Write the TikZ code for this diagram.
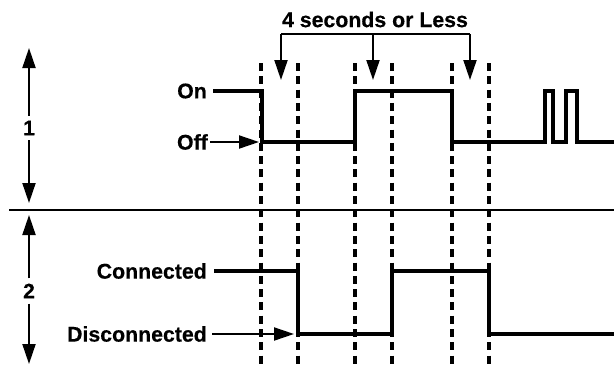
\documentclass[tikz,border=0pt]{standalone}
\usepackage{fontspec}
\setmainfont{Liberation Sans}[BoldFeatures={FakeBold=0.4}]
\usetikzlibrary{arrows.meta}
\begin{document}
\begin{tikzpicture}[x=1pt,y=-1pt,
  lbl/.style={font=\fontsize{21.3}{25}\selectfont\bfseries, inner sep=0pt},
  num/.style={font=\fontsize{21}{24}\selectfont\bfseries, inner sep=5pt},
  sig/.style={line width=4.8pt, line join=miter},
  guide/.style={line width=3.5pt, dash pattern=on 8pt off 5.3pt},
  thin/.style={line width=2pt},
  arr/.style={thin, -{Triangle[length=20pt,width=13pt]}}]
\useasboundingbox (0,0) rectangle (614,365);
% guide lines
\foreach \x/\n in {261/g1,298/g2,355/g3,392/g4,452/g5,489/g6}{
  \coordinate (\n t) at (\x,63);
  \coordinate (\n b) at (\x,365);
  \draw[guide] (\n t) -- (\n b);
}
% separator
\coordinate (sepL) at (9,209.5);
\coordinate (sepR) at (614,209.5);
\draw[thin] (sepL) -- (sepR);
% signal 1
\draw[sig] (213,91) -- (262,91) -- (262,142) -- (355,142) -- (355,91) -- (452,91) -- (452,142)
  -- (545,142) -- (545,91) -- (553,91) -- (553,142) -- (566,142) -- (566,91) -- (577,91) -- (577,142) -- (614,142);
% signal 2
\draw[sig] (214,271) -- (298,271) -- (298,334) -- (392,334) -- (392,271) -- (489,271) -- (489,334) -- (614,334);
% labels
\node[lbl, anchor=east] (on) at (207,91) {On};
\node[lbl, anchor=east] (off) at (208,142) {Off};
\node[lbl, anchor=east] (con) at (207,271) {Connected};
\node[lbl, anchor=east] (dis) at (207,334) {Disconnected};
\coordinate (offtip) at (259,142);
\coordinate (distip) at (294,334);
\draw[arr] ([xshift=2pt]off.east) -- (offtip);
\draw[arr] ([xshift=5pt]dis.east) -- (distip);
% title bracket
\node[lbl] (title) at (375,19.5) {4 seconds or Less};
\coordinate (bl) at (281,34);
\coordinate (bm) at (373,34);
\coordinate (br) at (470,34);
\coordinate (tl) at (281,80);
\coordinate (tm) at (373,80);
\coordinate (tr) at (470,80);
\draw[thin] (bl) -- (br);
\draw[arr] (bl) -- (tl);
\draw[arr] (bm) -- (tm);
\draw[arr] (br) -- (tr);
% section arrows
\node[num] (n1) at (29,128) {1};
\node[num] (n2) at (29,291) {2};
\coordinate (a1t) at (29,48);
\coordinate (a1b) at (29,203);
\coordinate (a2t) at (29,215);
\coordinate (a2b) at (29,364);
\draw[arr] (n1) -- (a1t);
\draw[arr] (n1) -- (a1b);
\draw[arr] (n2) -- (a2t);
\draw[arr] (n2) -- (a2b);
\end{tikzpicture}
\end{document}
